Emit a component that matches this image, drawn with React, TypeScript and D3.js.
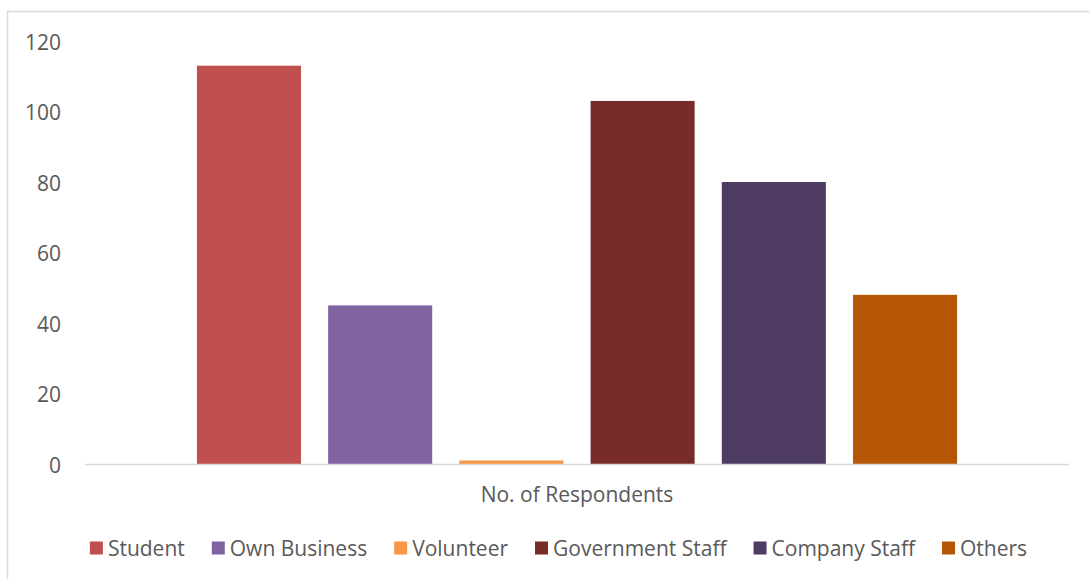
import React, { useEffect, useRef } from "react";
import * as d3 from "d3";

const categories = ["No. of Respondents"];
const seriesNames = ["Student", "Own Business", "Volunteer", "Government Staff", "Company Staff", "Others"];
const seriesValues = [113, 45, 1, 103, 80, 48];
const seriesColors = ["#C0504D", "#8064A2", "#F79646", "#772C2A", "#4D3B62", "#B65708"];
const yTicks = [0, 20, 40, 60, 80, 100, 120];

const W = 1089;
const H = 579;
const FONT = "'Open Sans', sans-serif";
const TEXT = "#595959";
const FS = 21;

export default function App() {
  const ref = useRef<SVGSVGElement | null>(null);

  useEffect(() => {
    const svg = d3.select(ref.current);
    svg.selectAll("*").remove();

    // chart border (left & top visible)
    svg.append("rect")
      .attr("x", 7.5).attr("y", 11.5)
      .attr("width", W + 20).attr("height", H + 20)
      .attr("fill", "#fff").attr("stroke", "#D9D9D9").attr("stroke-width", 1.5);

    const x0 = 85, x1 = 1069;
    const y = d3.scaleLinear().domain([0, 120]).range([464, 41]);
    const xCat = d3.scaleBand().domain(categories).range([x0, x1]).padding(0);
    const x = d3.scaleBand<string>()
      .domain(seriesNames)
      .range([xCat(categories[0])!, xCat(categories[0])! + xCat.bandwidth()])
      .paddingInner(0.207)
      .paddingOuter(0.853);

    // y tick labels
    svg.append("g").selectAll("text").data(yTicks).join("text")
      .attr("x", 61).attr("y", d => y(d) + 1.5).attr("dy", "0.35em")
      .attr("text-anchor", "end")
      .attr("font-family", FONT).attr("font-size", FS).attr("fill", TEXT)
      .text(d => d3.format("d")(d));

    // bars
    svg.append("g").selectAll("rect").data(seriesNames).join("rect")
      .attr("x", d => x(d)!)
      .attr("width", x.bandwidth())
      .attr("y", (d, i) => y(seriesValues[i]))
      .attr("height", (d, i) => y(0) - y(seriesValues[i]))
      .attr("fill", (d, i) => seriesColors[i]);

    // baseline
    svg.append("line")
      .attr("x1", x0).attr("x2", x1)
      .attr("y1", y(0) + 0.5).attr("y2", y(0) + 0.5)
      .attr("stroke", "#D9D9D9").attr("stroke-width", 1.5);

    // category label
    svg.append("text")
      .attr("x", xCat(categories[0])! + xCat.bandwidth() / 2)
      .attr("y", 502)
      .attr("text-anchor", "middle")
      .attr("font-family", FONT).attr("font-size", FS).attr("fill", TEXT)
      .text(categories[0]);

    // legend
    const lg = svg.append("g");
    const items = lg.selectAll("g").data(seriesNames).join("g");
    items.append("rect").attr("width", 13).attr("height", 13)
      .attr("y", 541.5).attr("fill", (d, i) => seriesColors[i]);
    const texts = items.append("text")
      .attr("x", 18).attr("y", 555.5)
      .attr("font-family", FONT).attr("font-size", FS).attr("fill", TEXT)
      .text(d => d);
    const widths: number[] = [];
    texts.each(function () { widths.push((this as SVGTextElement).getComputedTextLength()); });
    const gap = 27;
    const itemW = widths.map(w => 18 + w);
    const total = d3.sum(itemW) + gap * (itemW.length - 1);
    let cx = 558.5 - total / 2;
    items.attr("transform", (d, i) => {
      const t = `translate(${cx},0)`;
      cx += itemW[i] + gap;
      return t;
    });
  }, []);

  return (
    <svg ref={ref} width={W} height={H}
      style={{ position: "absolute", left: 0, top: 0, background: "#fff" }} />
  );
}
